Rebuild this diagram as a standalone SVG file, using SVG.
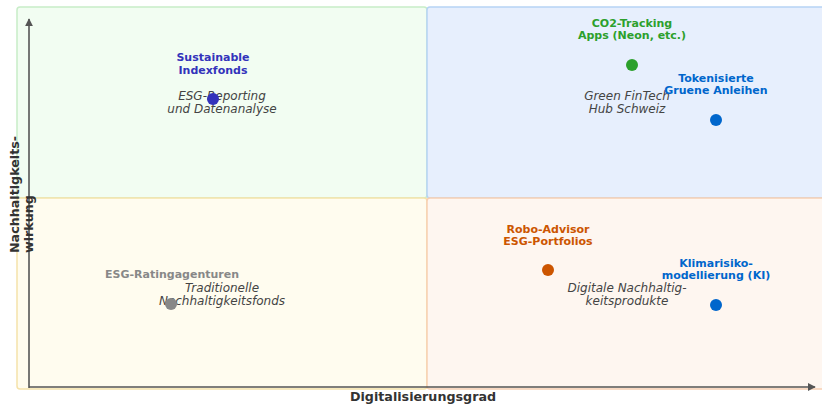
<svg xmlns="http://www.w3.org/2000/svg" width="822" height="404" viewBox="0 0 822 404">
<style>
.q{stroke-width:1.5}
.lbl{font-family:"DejaVu Sans",sans-serif;font-size:11px;font-weight:bold;text-anchor:middle}
.it{font-family:"DejaVu Sans",sans-serif;font-size:12px;font-style:italic;fill:#444;text-anchor:middle}
.ax{font-family:"DejaVu Sans",sans-serif;font-size:12.7px;font-weight:bold;fill:#333}
.axis{stroke:#555;stroke-width:1.6;fill:none}
</style>
<defs>
<marker id="ah" viewBox="0 0 10 10" refX="9" refY="5" markerWidth="8" markerHeight="8" markerUnits="userSpaceOnUse" orient="auto">
<path d="M0,0 L10,5 L0,10 z" fill="#555"/>
</marker>
</defs>
<rect width="822" height="404" fill="#ffffff"/>
<g id="quadrants">
<rect class="q" x="17" y="7" width="410" height="191" rx="3" fill="#f2fdf2" stroke="#c8edc8"/>
<rect class="q" x="427" y="7" width="400" height="191" rx="3" fill="#e7effd" stroke="#b6d3f5"/>
<rect class="q" x="17" y="198" width="410" height="191" rx="3" fill="#fffcef" stroke="#f5e2aa"/>
<rect class="q" x="427" y="198" width="400" height="191" rx="3" fill="#fef6f0" stroke="#f8cfb2"/>
</g>
<g id="connectors">
<line class="axis" x1="29" y1="388" x2="29" y2="19" marker-end="url(#ah)"/>
<line class="axis" x1="29" y1="387" x2="815" y2="387" marker-end="url(#ah)"/>
</g>
<g id="axis-labels">
<text class="ax" x="423" y="401" text-anchor="middle">Digitalisierungsgrad</text>
<text class="ax" transform="translate(19,253) rotate(-90)"><tspan x="0" y="0">Nachhaltigkeits-</tspan><tspan x="0" y="14">wirkung</tspan></text>
</g>
<g id="quadrant-labels">
<text class="it"><tspan x="222" y="100">ESG-Reporting</tspan><tspan x="222" y="113">und Datenanalyse</tspan></text>
<text class="it"><tspan x="627" y="100">Green FinTech</tspan><tspan x="627" y="113">Hub Schweiz</tspan></text>
<text class="it"><tspan x="222" y="292">Traditionelle</tspan><tspan x="222" y="305">Nachhaltigkeitsfonds</tspan></text>
<text class="it"><tspan x="627" y="292">Digitale Nachhaltig-</tspan><tspan x="627" y="305">keitsprodukte</tspan></text>
</g>
<g id="node-sustainable-indexfonds">
<circle cx="213" cy="99" r="6" fill="#3333bb"/>
<text class="lbl" fill="#3333bb"><tspan x="213" y="61">Sustainable</tspan><tspan x="213" y="74">Indexfonds</tspan></text>
</g>
<g id="node-co2-tracking">
<circle cx="632" cy="65" r="6" fill="#2ca02c"/>
<text class="lbl" fill="#2ca02c"><tspan x="632" y="27">CO2-Tracking</tspan><tspan x="632" y="39">Apps (Neon, etc.)</tspan></text>
</g>
<g id="node-tokenisierte">
<circle cx="716" cy="120" r="6" fill="#0066cc"/>
<text class="lbl" fill="#0066cc"><tspan x="716" y="82">Tokenisierte</tspan><tspan x="716" y="94">Gruene Anleihen</tspan></text>
</g>
<g id="node-robo-advisor">
<circle cx="548" cy="270" r="6" fill="#cc5500"/>
<text class="lbl" fill="#cc5500"><tspan x="548" y="233">Robo-Advisor</tspan><tspan x="548" y="245">ESG-Portfolios</tspan></text>
</g>
<g id="node-klimarisiko">
<circle cx="716" cy="305" r="6" fill="#0066cc"/>
<text class="lbl" fill="#0066cc"><tspan x="716" y="267">Klimarisiko-</tspan><tspan x="716" y="279">modellierung (KI)</tspan></text>
</g>
<g id="node-esg-rating">
<circle cx="171" cy="304" r="6" fill="#888888"/>
<text class="lbl" fill="#888888" x="172" y="278">ESG-Ratingagenturen</text>
</g>
</svg>
